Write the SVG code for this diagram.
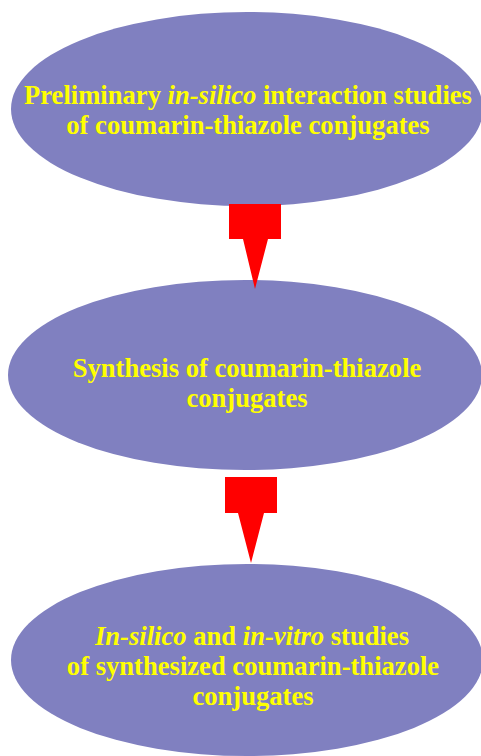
<svg xmlns="http://www.w3.org/2000/svg" width="481" height="756" viewBox="0 0 481 756">
<style>
.node{fill:#8080C0;}
.lbl{font-family:"Liberation Serif","Times New Roman",serif;font-weight:bold;font-size:26.6px;fill:#FFFF00;text-anchor:middle;}
.it{font-style:italic;}
.arr{fill:#FF0000;}
</style>
<rect width="481" height="756" fill="#FFFFFF"/>
<g id="node1">
<ellipse class="node" cx="247" cy="109" rx="236" ry="97"/>
<text class="lbl" x="248" y="104">Preliminary <tspan class="it">in-silico</tspan> interaction studies</text>
<text class="lbl" x="248" y="134">of coumarin-thiazole conjugates</text>
</g>
<g id="node2">
<ellipse class="node" cx="245" cy="375" rx="237" ry="95"/>
<text class="lbl" x="247" y="377">Synthesis of coumarin-thiazole</text>
<text class="lbl" x="247" y="407">conjugates</text>
</g>
<g id="node3">
<ellipse class="node" cx="247" cy="660" rx="236" ry="96"/>
<text class="lbl" x="252" y="645"><tspan class="it">In-silico</tspan> and <tspan class="it">in-vitro</tspan> studies</text>
<text class="lbl" x="253" y="675">of synthesized coumarin-thiazole</text>
<text class="lbl" x="253" y="705">conjugates</text>
</g>
<g id="connectors">
<path class="arr" d="M229,204 H281 V239 H268 L255,289 L243,239 H229 Z"/>
<path class="arr" d="M225,477 H277 V513 H264 L251,563 L238,513 H225 Z"/>
</g>
</svg>
